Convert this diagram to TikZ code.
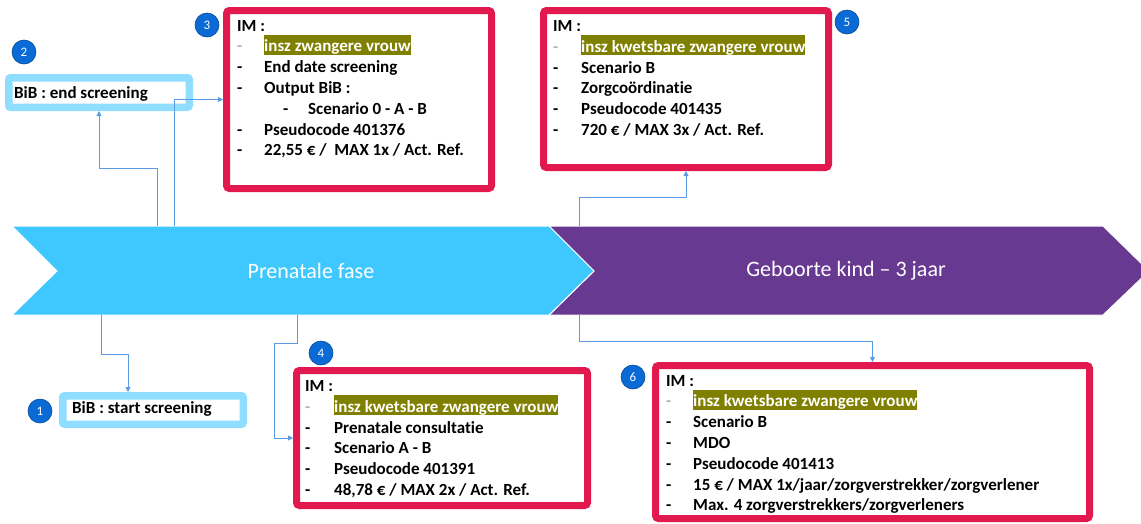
\documentclass[tikz,border=0pt]{standalone}
\usepackage{fontspec}
\setmainfont{Carlito}[Ligatures=NoCommon]
\usetikzlibrary{arrows.meta}
\definecolor{prenatal}{HTML}{3FC8FF}
\definecolor{geboorte}{HTML}{673991}
\definecolor{imred}{HTML}{E2194E}
\definecolor{bibblue}{HTML}{8FDDFF}
\definecolor{dotblue}{HTML}{0A6AD6}
\definecolor{linkblue}{HTML}{5A9BE6}
\definecolor{hlolive}{HTML}{808000}
\newcommand{\olivehl}[1]{\smash{\setlength{\fboxsep}{0pt}\colorbox{hlolive}{\rule[-3pt]{0pt}{20pt}\textcolor{white}{#1}}}}
\newcommand{\greydash}{\textcolor{black!30}{-}}
\tikzset{
  imbox/.style={draw=imred, line width=7pt, rounded corners=3pt, fill=white, inner sep=0pt},
  bibbox/.style={draw=bibblue, line width=7.5pt, rounded corners=2pt, fill=white, inner sep=0pt},
  imtext/.style={anchor=base west, inner sep=0pt, font=\fontsize{17}{20.8}\selectfont\bfseries},
  numdot/.style={circle, fill=dotblue, draw=dotblue!70!black, line width=0.6pt, minimum size=24pt, inner sep=0pt, text=white, font=\fontsize{13}{13}\selectfont},
  link/.style={draw=linkblue, line width=0.9pt, -{Triangle[length=5pt,width=5pt]}},
  phase/.style={text=white, font=\fontsize{22}{22}\selectfont}
}
\begin{document}
\begin{tikzpicture}[x=1pt,y=-1pt]
\useasboundingbox (0,0) rectangle (1141,523);
\filldraw[fill=geboorte, draw=white, line width=1pt] (549,226) -- (1103,226) -- (1149,271) -- (1103,315) -- (549,315) -- (594,271) -- cycle;
\filldraw[fill=prenatal, draw=white, line width=1pt] (12,226) -- (549,226) -- (594,271) -- (549,315) -- (12,315) -- (57,271) -- cycle;
\node[phase] (prenatal) at (311,271) {Prenatale fase};
\node[phase] (geboorte) at (846,271) {Geboorte kind – 3 jaar};
\coordinate (top2) at (157,226);
\coordinate (top3) at (174,226);
\coordinate (top5) at (579,226);
\coordinate (bot1) at (101,315);
\coordinate (bot4) at (297,315);
\coordinate (bot6) at (579,315);
\node[bibbox, minimum width=180.5pt, minimum height=29.5pt] (bib2) at (99,92.5) {};
\node[imtext] (bib2txt) at (14,98.5) {BiB : end screening};
\node[bibbox, minimum width=180.5pt, minimum height=28.5pt] (bib1) at (153,410) {};
\node[imtext] (bib1txt) at (72,413.5) {BiB : start screening};
\node[imbox, minimum width=265pt, minimum height=178pt] (im3) at (359,99.5) {};
\node[imtext] (im3txt) at (237,31) {\begin{tabular}[t]{@{}p{27pt}@{}l@{}}
\multicolumn{2}{@{}l@{}}{IM :}\\
\greydash & \olivehl{insz zwangere vrouw}\\
- & End date screening\\
- & Output BiB :\\
 & \hspace*{19pt}\makebox[25pt][l]{-}Scenario 0 - A - B\\
- & Pseudocode 401376\\
- & 22,55 € /\ \ MAX 1x / Act. Ref.
\end{tabular}};
\node[imbox, minimum width=285pt, minimum height=157pt] (im5) at (686,89) {};
\node[imtext] (im5txt) at (553,31.5) {\begin{tabular}[t]{@{}p{28pt}@{}l@{}}
\multicolumn{2}{@{}l@{}}{IM :}\\
\greydash & \olivehl{insz kwetsbare zwangere vrouw}\\
- & Scenario B\\
- & Zorgcoördinatie\\
- & Pseudocode 401435\\
- & 720 € / MAX 3x / Act. Ref.
\end{tabular}};
\node[imbox, minimum width=291pt, minimum height=135pt] (im4) at (442,438) {};
\node[imtext] (im4txt) at (305,391.5) {\begin{tabular}[t]{@{}p{29pt}@{}l@{}}
\multicolumn{2}{@{}l@{}}{IM :}\\
\greydash & \olivehl{insz kwetsbare zwangere vrouw}\\
- & Prenatale consultatie\\
- & Scenario A - B\\
- & Pseudocode 401391\\
- & 48,78 € / MAX 2x / Act. Ref.
\end{tabular}};
\node[imbox, minimum width=434pt, minimum height=153pt] (im6) at (872.5,442) {};
\node[imtext] (im6txt) at (666,386) {\begin{tabular}[t]{@{}p{27pt}@{}l@{}}
\multicolumn{2}{@{}l@{}}{IM :}\\
\greydash & \olivehl{insz kwetsbare zwangere vrouw}\\
- & Scenario B\\
- & MDO\\
- & Pseudocode 401413\\
- & 15 € / MAX 1x/jaar/zorgverstrekker/zorgverlener\\
- & Max. 4 zorgverstrekkers/zorgverleners
\end{tabular}};
\foreach \n/\x/\y in {1/40/411, 2/24/52, 3/207/25, 4/321/353, 5/847/22, 6/633/377}
  \node[numdot] (dot\n) at (\x,\y) {\n};
\draw[link] (top2) -- ++(0,-58) -| (bib2.south);
\draw[link] (top3) |- (im3.west);
\draw[link] (top5) -- ++(0,-29) -| (im5.south);
\draw[link] (bot1) -- ++(0,39) -| ([xshift=-25pt]bib1.north);
\draw[link] (bot4) -- ++(0,28) -- ++(-23,0) |- (im4.west);
\draw[link] (bot6) -- ++(0,26) -| (im6.north);
\end{tikzpicture}
\end{document}
